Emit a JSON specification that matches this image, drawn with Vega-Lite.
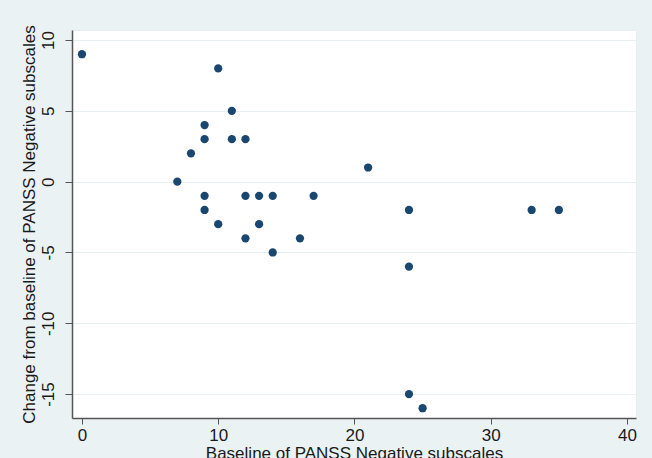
{
  "$schema": "https://vega.github.io/schema/vega-lite/v6.json",
  "width": 564,
  "height": 388,
  "autosize": {"type": "none"},
  "padding": {"left": 72, "top": 30, "right": 16, "bottom": 40},
  "background": "#eaf2f3",
  "config": {
    "view": {"fill": "white", "stroke": "#e3eef0", "strokeWidth": 1},
    "font": "Liberation Sans"
  },
  "data": {
    "values": [
      {"baseline": 0, "change": 9},
      {"baseline": 7, "change": 0},
      {"baseline": 8, "change": 2},
      {"baseline": 9, "change": 4},
      {"baseline": 9, "change": 3},
      {"baseline": 9, "change": -1},
      {"baseline": 9, "change": -2},
      {"baseline": 10, "change": 8},
      {"baseline": 10, "change": -3},
      {"baseline": 11, "change": 5},
      {"baseline": 11, "change": 3},
      {"baseline": 12, "change": 3},
      {"baseline": 12, "change": -1},
      {"baseline": 12, "change": -4},
      {"baseline": 13, "change": -1},
      {"baseline": 13, "change": -3},
      {"baseline": 14, "change": -1},
      {"baseline": 14, "change": -5},
      {"baseline": 16, "change": -4},
      {"baseline": 17, "change": -1},
      {"baseline": 21, "change": 1},
      {"baseline": 24, "change": -2},
      {"baseline": 24, "change": -6},
      {"baseline": 24, "change": -15},
      {"baseline": 25, "change": -16},
      {"baseline": 33, "change": -2},
      {"baseline": 35, "change": -2}
    ]
  },
  "mark": {"type": "point", "filled": true, "opacity": 1, "size": 68, "color": "#1a476f"},
  "encoding": {
    "x": {
      "field": "baseline",
      "type": "quantitative",
      "scale": {"domain": [-0.73, 40.66], "nice": false, "zero": false},
      "axis": {
        "values": [0, 10, 20, 30, 40],
        "labelExpr": "datum.value + ''",
        "grid": false,
        "title": "Baseline of PANSS Negative subscales",
        "titleFontSize": 17,
        "titleFontWeight": "normal",
        "titleColor": "#1a1a1a",
        "titlePadding": 2,
        "labelFontSize": 17,
        "labelColor": "#1a1a1a",
        "labelPadding": 3,
        "tickSize": 6,
        "tickColor": "#555555",
        "domainColor": "#555555",
        "domainWidth": 1.5
      }
    },
    "y": {
      "field": "change",
      "type": "quantitative",
      "scale": {"domain": [-16.69, 10.71], "nice": false, "zero": false},
      "axis": {
        "values": [-15, -10, -5, 0, 5, 10],
        "labelExpr": "datum.value + ''",
        "grid": true,
        "gridColor": "#e6f0f2",
        "gridWidth": 1.2,
        "title": "Change from baseline of PANSS Negative subscales",
        "titleFontSize": 17,
        "titleFontWeight": "normal",
        "titleColor": "#1a1a1a",
        "titlePadding": 1,
        "labelFontSize": 17,
        "labelColor": "#1a1a1a",
        "labelAngle": 270,
        "labelAlign": "center",
        "labelBaseline": "bottom",
        "labelPadding": 8,
        "tickSize": 7,
        "tickColor": "#555555",
        "domainColor": "#555555",
        "domainWidth": 1.5
      }
    }
  }
}
